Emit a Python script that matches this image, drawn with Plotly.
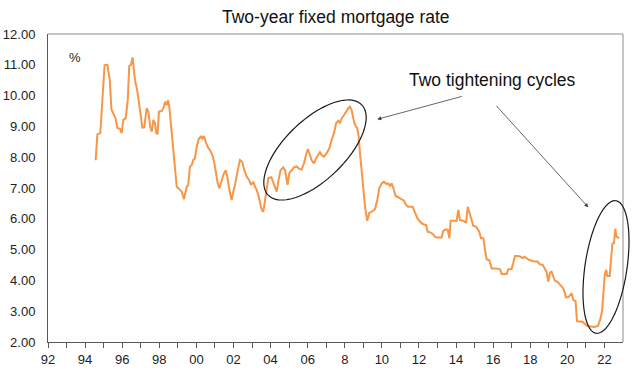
import math
import plotly.graph_objects as go

# ---- data ----
years = [1994.57, 1994.66, 1994.82, 1995.05, 1995.20, 1995.33, 1995.42, 1995.52, 1995.64, 1995.74,
         1995.88, 1995.97, 1996.06, 1996.19, 1996.30, 1996.38, 1996.47, 1996.56, 1996.62, 1996.69,
         1996.82, 1996.92, 1997.01, 1997.08, 1997.19, 1997.32, 1997.41, 1997.51, 1997.59, 1997.68,
         1997.77, 1997.84, 1997.91, 1997.98, 1998.13, 1998.22, 1998.31, 1998.40, 1998.47, 1998.54,
         1998.63, 1998.72, 1998.85, 1998.94, 1999.12, 1999.21, 1999.33, 1999.48, 1999.56, 1999.65,
         1999.75, 1999.83, 1999.92, 2000.02, 2000.14, 2000.25, 2000.32, 2000.41, 2000.50, 2000.61,
         2000.73, 2000.86, 2000.97, 2001.04, 2001.15, 2001.24, 2001.33, 2001.45, 2001.58, 2001.67,
         2001.76, 2001.90, 2001.99, 2002.08, 2002.23, 2002.35, 2002.47, 2002.58, 2002.71, 2002.84,
         2002.94, 2003.07, 2003.16, 2003.25, 2003.34, 2003.43, 2003.52, 2003.61, 2003.70, 2003.77,
         2003.88, 2004.04, 2004.15, 2004.29, 2004.33, 2004.41, 2004.54, 2004.68, 2004.78, 2004.87,
         2004.92, 2005.01, 2005.14, 2005.26, 2005.41, 2005.55, 2005.67, 2005.80, 2005.91, 2006.00,
         2006.09, 2006.21, 2006.34, 2006.45, 2006.57, 2006.66, 2006.75, 2006.88, 2007.02, 2007.17,
         2007.29, 2007.42, 2007.53, 2007.65, 2007.74, 2007.83, 2007.96, 2008.06, 2008.19, 2008.28,
         2008.37, 2008.46, 2008.55, 2008.67, 2008.75, 2008.82, 2008.91, 2009.00, 2009.10, 2009.21,
         2009.32, 2009.45, 2009.63, 2009.75, 2009.86, 2009.99, 2010.11, 2010.26, 2010.34, 2010.44,
         2010.53, 2010.62, 2010.74, 2010.88, 2011.07, 2011.19, 2011.30, 2011.42, 2011.66, 2011.78,
         2011.91, 2012.05, 2012.20, 2012.38, 2012.47, 2012.63, 2012.74, 2012.86, 2012.99, 2013.22,
         2013.31, 2013.45, 2013.55, 2013.64, 2013.71, 2013.85, 2014.03, 2014.12, 2014.21, 2014.39,
         2014.54, 2014.63, 2014.75, 2014.84, 2014.93, 2015.07, 2015.14, 2015.25, 2015.34, 2015.47,
         2015.56, 2015.65, 2015.79, 2015.92, 2016.15, 2016.37, 2016.46, 2016.73, 2016.81, 2016.99,
         2017.08, 2017.17, 2017.35, 2017.48, 2017.59, 2017.68, 2017.81, 2017.95, 2018.08, 2018.25,
         2018.40, 2018.52, 2018.67, 2018.79, 2018.88, 2018.97, 2019.06, 2019.15, 2019.24, 2019.33,
         2019.46, 2019.60, 2019.69, 2019.78, 2019.87, 2019.92, 2020.05, 2020.18, 2020.23, 2020.32,
         2020.44, 2020.52, 2020.82, 2021.08, 2021.45, 2021.65, 2021.78, 2021.87, 2021.93, 2022.02,
         2022.10, 2022.15, 2022.28, 2022.37, 2022.43, 2022.51, 2022.59, 2022.64, 2022.75, 2022.80]

rate = [7.90, 8.74, 8.78, 10.99, 11.00, 10.50, 9.55, 9.43, 9.26, 8.95,
        8.92, 8.78, 9.21, 9.26, 9.86, 10.96, 11.00, 11.24, 10.83, 10.50,
        10.13, 9.75, 9.32, 8.96, 8.97, 9.59, 9.48, 8.99, 8.83, 9.21,
        9.10, 8.78, 8.75, 9.48, 9.50, 9.59, 9.80, 9.69, 9.86, 9.64,
        8.99, 8.34, 7.48, 7.04, 6.94, 6.88, 6.64, 7.04, 7.10, 7.69,
        7.75, 7.91, 7.96, 8.34, 8.61, 8.67, 8.61, 8.69, 8.50, 8.34,
        8.23, 8.07, 7.80, 7.48, 7.15, 6.99, 7.20, 7.42, 7.58, 7.37,
        6.99, 6.61, 6.88, 7.10, 7.58, 7.91, 7.85, 7.58, 7.37, 7.26,
        7.10, 7.20, 7.04, 6.94, 6.77, 6.56, 6.29, 6.23, 6.61, 6.95,
        7.32, 7.35, 7.18, 6.92, 6.88, 7.20, 7.58, 7.67, 7.58, 7.26,
        7.10, 7.48, 7.58, 7.67, 7.70, 7.62, 7.60, 7.80, 8.07, 8.26,
        8.13, 7.91, 7.80, 7.96, 8.07, 8.18, 8.07, 8.02, 8.13, 8.29,
        8.56, 8.78, 9.10, 9.18, 9.12, 9.26, 9.37, 9.48, 9.59, 9.64,
        9.53, 9.26, 9.05, 8.94, 8.67, 8.13, 7.50, 6.83, 6.35, 5.93,
        6.19, 6.23, 6.31, 6.61, 6.99, 7.15, 7.20, 7.13, 7.15, 7.07,
        7.15, 6.99, 6.74, 6.70, 6.64, 6.59, 6.45, 6.39, 6.39, 6.23,
        6.02, 5.91, 5.83, 5.80, 5.58, 5.55, 5.51, 5.42, 5.39, 5.39,
        5.61, 5.66, 5.64, 5.37, 5.94, 5.94, 5.93, 6.29, 5.96, 5.94,
        5.87, 6.39, 6.12, 5.96, 5.77, 5.75, 5.69, 5.58, 5.37, 5.37,
        4.99, 4.68, 4.66, 4.39, 4.39, 4.36, 4.21, 4.21, 4.36, 4.37,
        4.56, 4.79, 4.79, 4.77, 4.72, 4.77, 4.72, 4.66, 4.64, 4.61,
        4.61, 4.52, 4.50, 4.39, 4.28, 3.96, 4.25, 4.28, 4.12, 3.98,
        3.96, 3.85, 3.80, 3.74, 3.58, 3.45, 3.45, 3.53, 3.58, 3.36,
        3.33, 2.67, 2.66, 2.52, 2.49, 2.52, 2.75, 3.00, 3.60, 4.20,
        4.34, 4.14, 4.14, 4.77, 5.20, 5.21, 5.68, 5.42, 5.37, 5.37]

tick_years = list(range(1992, 2023))
tick_labels = ["92", "", "94", "", "96", "", "98", "", "00", "", "02", "", "04", "", "06", "",
               "8", "", "10", "", "12", "", "14", "", "16", "", "18", "", "20", "", "22"]

title_text = "Two-year fixed mortgage rate"
unit_text = "%"
note_text = "Two tightening cycles"

# ---- layout geometry (pixels) ----
W, H = 635, 387
ML, MR, MT, MB = 48, 12, 34, 45
PW, PH = W - ML - MR, H - MT - MB


def px2paper(px, py):
    return (px - ML) / PW, (H - MB - py) / PH


def ellipse_path(cx, cy, a, b, theta_deg, n=90):
    th = math.radians(theta_deg)
    pts = []
    for i in range(n + 1):
        t = 2 * math.pi * i / n
        x = cx + a * math.cos(t) * math.cos(th) - b * math.sin(t) * math.sin(th)
        yu = a * math.cos(t) * math.sin(th) + b * math.sin(t) * math.cos(th)
        pts.append(px2paper(x, cy - yu))
    d = "M " + " L ".join(f"{p[0]:.4f},{p[1]:.4f}" for p in pts) + " Z"
    return d


fig = go.Figure()
fig.add_trace(go.Scatter(x=years, y=rate, mode="lines",
                         line=dict(color="#F79646", width=2), hoverinfo="skip"))

font_family = "Liberation Sans, Arial, sans-serif"

fig.update_layout(
    width=W, height=H,
    margin=dict(l=ML, r=MR, t=MT, b=MB, pad=0),
    paper_bgcolor="white", plot_bgcolor="white",
    showlegend=False,
    font=dict(family=font_family, color="#222222", size=13),
    xaxis=dict(range=[1992, 2023], tickvals=tick_years, ticktext=tick_labels,
               ticks="outside", ticklen=5, tickcolor="#595959", tickwidth=1,
               showline=True, linecolor="#595959", linewidth=1,
               showgrid=False, zeroline=False, automargin=False,
               tickfont=dict(size=13, color="#222222")),
    yaxis=dict(range=[2, 12], dtick=1, tickformat=".2f", ticks="",
               showline=True, linecolor="#595959", linewidth=1,
               showgrid=False, zeroline=False, automargin=False,
               ticklabelstandoff=9,
               tickfont=dict(size=13, color="#222222")),
)

# top/right frame lines
fig.add_shape(type="line", xref="paper", yref="paper", x0=0, x1=1, y0=1, y1=1,
              line=dict(color="#8C8C8C", width=1))
fig.add_shape(type="line", xref="paper", yref="paper", x0=1, x1=1, y0=0, y1=1,
              line=dict(color="#8C8C8C", width=1))

# ellipses
fig.add_shape(type="path", xref="paper", yref="paper",
              path=ellipse_path(315, 150, 65, 30, 44),
              line=dict(color="#1a1a1a", width=1.2))
fig.add_shape(type="path", xref="paper", yref="paper",
              path=ellipse_path(606, 267, 67, 21, 81.5),
              line=dict(color="#1a1a1a", width=1.2))

# title
tx, ty = px2paper(336, 17)
fig.add_annotation(text=title_text, xref="paper", yref="paper", x=tx, y=ty,
                   showarrow=False, font=dict(size=17.5, color="#111111"),
                   xanchor="center", yanchor="middle")
ux, uy = px2paper(75, 57)
fig.add_annotation(text=unit_text, xref="paper", yref="paper", x=ux, y=uy,
                   showarrow=False, font=dict(size=13, color="#222222"),
                   xanchor="center", yanchor="middle")
nx, ny = px2paper(492, 80)
fig.add_annotation(text=note_text, xref="paper", yref="paper", x=nx, y=ny,
                   showarrow=False, font=dict(size=17.5, color="#111111"),
                   xanchor="center", yanchor="middle")

# arrows
for head, tail in [((377.3, 119.3), (463.3, 96.0)), ((588.3, 207.3), (495.0, 104.3))]:
    hx, hy = px2paper(*head)
    fig.add_annotation(text="", xref="paper", yref="paper", x=hx, y=hy,
                       ax=tail[0] - head[0], ay=tail[1] - head[1],
                       showarrow=True, arrowhead=2, arrowsize=1, arrowwidth=0.8,
                       arrowcolor="#404040")

fig.write_html("out.html", config={"displayModeBar": False},
               post_script="document.body.style.margin='0';document.body.style.overflow='hidden';")
